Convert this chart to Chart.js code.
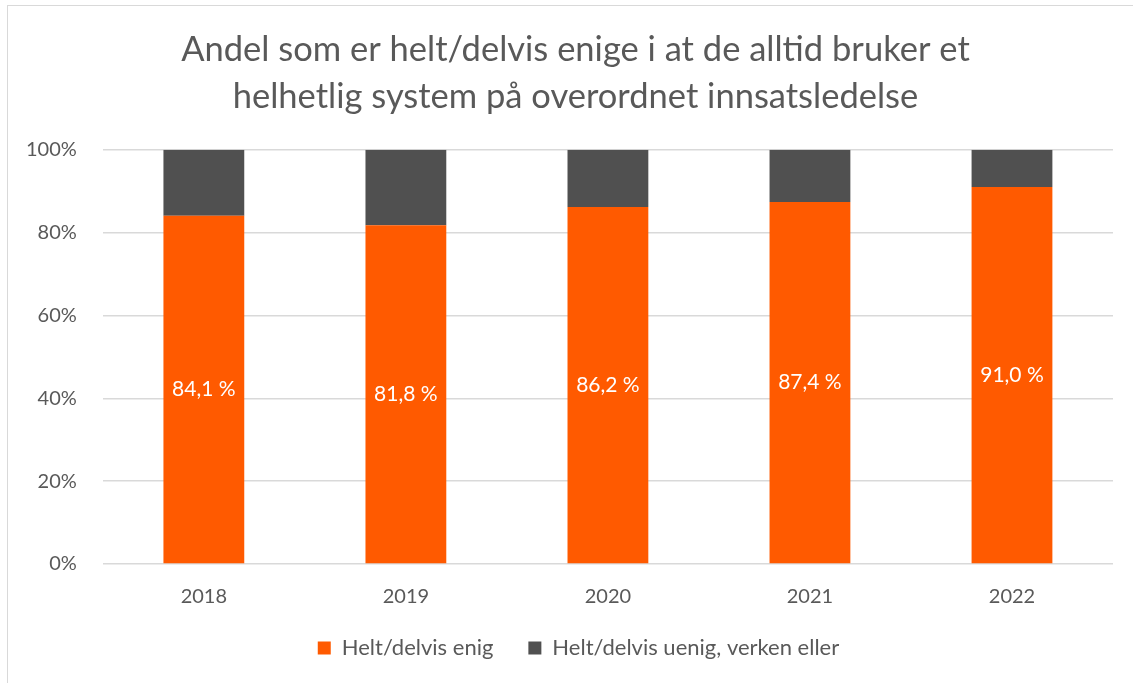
<!DOCTYPE html>
<html lang="no">
<head>
<meta charset="UTF-8">
<title>Andel helt/delvis enige</title>
<script src="https://cdn.jsdelivr.net/npm/chart.js"></script>
<style>
  html, body { margin: 0; padding: 0; background: #fff; }
  #wrap { position: relative; width: 1133px; height: 683px; }
</style>
</head>
<body>
<div id="wrap"><canvas id="myChart"></canvas></div>
<script>
  // data
  const years = ['2018', '2019', '2020', '2021', '2022'];
  const enig = [84.1, 81.8, 86.2, 87.4, 91.0];
  const uenig = [15.9, 18.2, 13.8, 12.6, 9.0];
  const yTicks = [0, 20, 40, 60, 80, 100];

  const txt = '#595959';
  const fam = 'Lato, "Open Sans", sans-serif';

  // white value labels in the middle of the orange bars
  const barLabels = {
    id: 'barLabels',
    afterDatasetsDraw(chart) {
      const c = chart.ctx;
      const meta = chart.getDatasetMeta(0);
      c.save();
      c.fillStyle = '#fff';
      c.font = '21px ' + fam;
      c.textAlign = 'center';
      c.textBaseline = 'middle';
      meta.data.forEach((bar, i) => {
        const mid = (bar.y + bar.base) / 2;
        c.fillText(enig[i].toFixed(1).replace('.', ',') + ' %', bar.x, mid);
      });
      c.restore();
    }
  };

  // thin frame round the chart like the original
  const frame = {
    id: 'frame',
    beforeDraw(chart) {
      const c = chart.ctx;
      c.save();
      c.strokeStyle = '#d9d9d9';
      c.lineWidth = 1;
      c.strokeRect(7.5, 5.5, chart.width, chart.height + 10);
      c.restore();
    }
  };

  // title and legend sit a bit right of the canvas centre in the original
  const nudge = {
    id: 'nudge',
    afterLayout(chart) {
      const t = chart.titleBlock, l = chart.legend;
      t.left += 19; t.right += 19;
      l.left += 22; l.right += 22;
      l.top -= 7; l.bottom -= 7;
    }
  };

  new Chart(document.getElementById('myChart'), {
    type: 'bar',
    data: {
      labels: years,
      datasets: [
        { label: 'Helt/delvis enig', data: enig, backgroundColor: '#ff5a00' },
        { label: 'Helt/delvis uenig, verken eller', data: uenig, backgroundColor: '#505050' }
      ]
    },
    options: {
      responsive: true,
      maintainAspectRatio: false,
      animation: false,
      layout: { padding: { left: 0, right: 20, top: 26, bottom: 7 } },
      datasets: { bar: { categoryPercentage: 1, barPercentage: 0.4 } },
      scales: {
        x: {
          stacked: true,
          grid: { display: false },
          border: { display: false },
          ticks: { color: txt, font: { family: fam, size: 20 }, padding: 13 },
          afterFit(axis) { axis.height = 45; }
        },
        y: {
          stacked: true,
          min: 0, max: 100,
          afterBuildTicks(axis) { axis.ticks = yTicks.map(v => ({ value: v })); },
          grid: { color: '#d9d9d9', lineWidth: 1.5, drawTicks: false },
          border: { display: false },
          ticks: {
            color: txt, font: { family: fam, size: 20 }, padding: 26,
            callback: v => v + '%'
          }
        }
      },
      plugins: {
        title: {
          display: true,
          text: ['Andel som er helt/delvis enige i at de alltid bruker et', 'helhetlig system på overordnet innsatsledelse'],
          color: txt,
          font: { family: fam, size: 34.5, weight: 'normal', lineHeight: 1.36 },
          padding: { top: 0, bottom: 30 }
        },
        legend: {
          position: 'bottom',
          labels: {
            color: txt, font: { family: fam, size: 22 },
            boxWidth: 13, boxHeight: 13, padding: 35
          }
        },
        tooltip: { enabled: false }
      }
    },
    plugins: [barLabels, frame, nudge]
  });
</script>
</body>
</html>
